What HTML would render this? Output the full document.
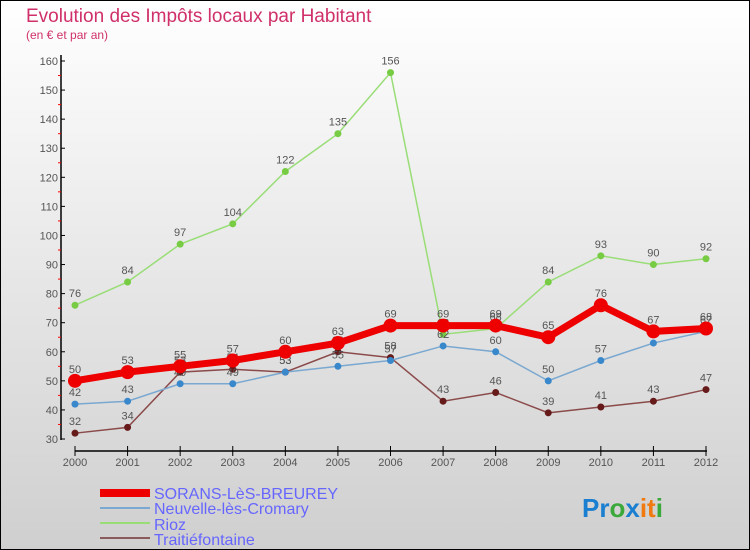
<!DOCTYPE html>
<html><head><meta charset="utf-8"><style>
body{margin:0}
svg{display:block;font-family:"Liberation Sans",sans-serif}
</style></head><body>
<svg id="c" width="750" height="550" viewBox="0 0 750 550">
<defs><linearGradient id="bg" x1="0" y1="0" x2="0" y2="1"><stop offset="0" stop-color="#ffffff"/><stop offset="1" stop-color="#cfcfcf"/></linearGradient></defs>
<rect x="0.5" y="0.5" width="749" height="549" fill="url(#bg)" stroke="#000"/>
<text x="26" y="22" font-size="19" fill="#d0306a">Evolution des Impôts locaux par Habitant</text>
<text x="26" y="39" font-size="12" fill="#d0306a">(en € et par an)</text>
<g id="axes"></g><g id="series"></g>
<g font-size="16" fill="#6666ff">
<rect x="100" y="489" width="50" height="8" fill="#e00"/>
<text x="154" y="499">SORANS-LèS-BREUREY</text>
<rect x="100" y="507" width="50" height="2" fill="#7aa8d0"/>
<text x="154" y="514">Neuvelle-lès-Cromary</text>
<rect x="100" y="522" width="50" height="2" fill="#99dd77"/>
<text x="154" y="530">Rioz</text>
<rect x="100" y="537" width="50" height="2" fill="#8b5a5a"/>
<text x="154" y="545">Traitiéfontaine</text>
</g>
<text x="582" y="517" font-size="26" font-weight="bold"><tspan fill="#1a7fd0">Pr</tspan><tspan fill="#3aa83a">o</tspan><tspan fill="#1a7fd0">x</tspan><tspan fill="#f07a10">it</tspan><tspan fill="#3aa83a">i</tspan></text>
</svg>
<script>
const years=[2000,2001,2002,2003,2004,2005,2006,2007,2008,2009,2010,2011,2012];
const yTicks=[30,40,50,60,70,80,90,100,110,120,130,140,150,160];
const sorans=[50,53,55,57,60,63,69,69,69,65,76,67,68];
const neuvelle=[42,43,49,49,53,55,57,62,60,50,57,63,67];
const rioz=[76,84,97,104,122,135,156,66,68,84,93,90,92];
const traitie=[32,34,53,54,53,60,58,43,46,39,41,43,47];
const NS="http://www.w3.org/2000/svg";
const X=i=>75+i*(706-75)/12;
const Y=v=>439-(v-30)*(439-61)/130;
function mk(t,a,p){const e=document.createElementNS(NS,t);for(const k in a)e.setAttribute(k,a[k]);p.appendChild(e);return e;}
const ax=document.getElementById('axes');
let l=mk('line',{x1:61,y1:55,x2:61,y2:440,stroke:'#000','stroke-width':1.5},ax);


l=mk('line',{x1:75,y1:451,x2:707,y2:451,stroke:'#000','stroke-width':1.5},ax);


yTicks.forEach(v=>{
  mk('line',{x1:61,y1:Y(v),x2:65,y2:Y(v),stroke:'#000'},ax);
  if(v<160)mk('line',{x1:58,y1:Y(v+5),x2:61,y2:Y(v+5),stroke:'#f00'},ax);
  const t=mk('text',{x:58,y:Y(v)+4,'font-size':11,fill:'#555','text-anchor':'end'},ax);
  t.textContent=v;
  
  
});
years.forEach((y,i)=>{
  mk('line',{x1:X(i),y1:446,x2:X(i),y2:456,stroke:'#000'},ax);
  const t=mk('text',{x:X(i),y:466,'font-size':11,fill:'#555','text-anchor':'middle'},ax);
  t.textContent=y;
  
  
});
const sg=document.getElementById('series');
function draw(vals,color,w,r,dot,name){
  const g=mk('g',{},sg);
  
  
  mk('polyline',{points:vals.map((v,i)=>X(i)+','+Y(v)).join(' '),fill:'none',stroke:color,'stroke-width':w},g);
  vals.forEach((v,i)=>{
    const c=mk('circle',{cx:X(i),cy:Y(v),r:r,fill:dot},g);
    
    
    const t=mk('text',{x:X(i),y:Y(v)-8,'font-size':11,fill:'#555','text-anchor':'middle'},g);
    t.textContent=v;
    
    
  });
}
draw(traitie,'#8b4a4a',1.5,3.5,'#661a1a','traitiefontaine');
draw(rioz,'#99dd77',1.5,3.5,'#77cc44','rioz');
draw(neuvelle,'#7aa8d0',1.5,3.5,'#3a88cc','neuvelle');
draw(sorans,'#ee0000',7,7,'#ee0000','sorans');
</script>
</body></html>
